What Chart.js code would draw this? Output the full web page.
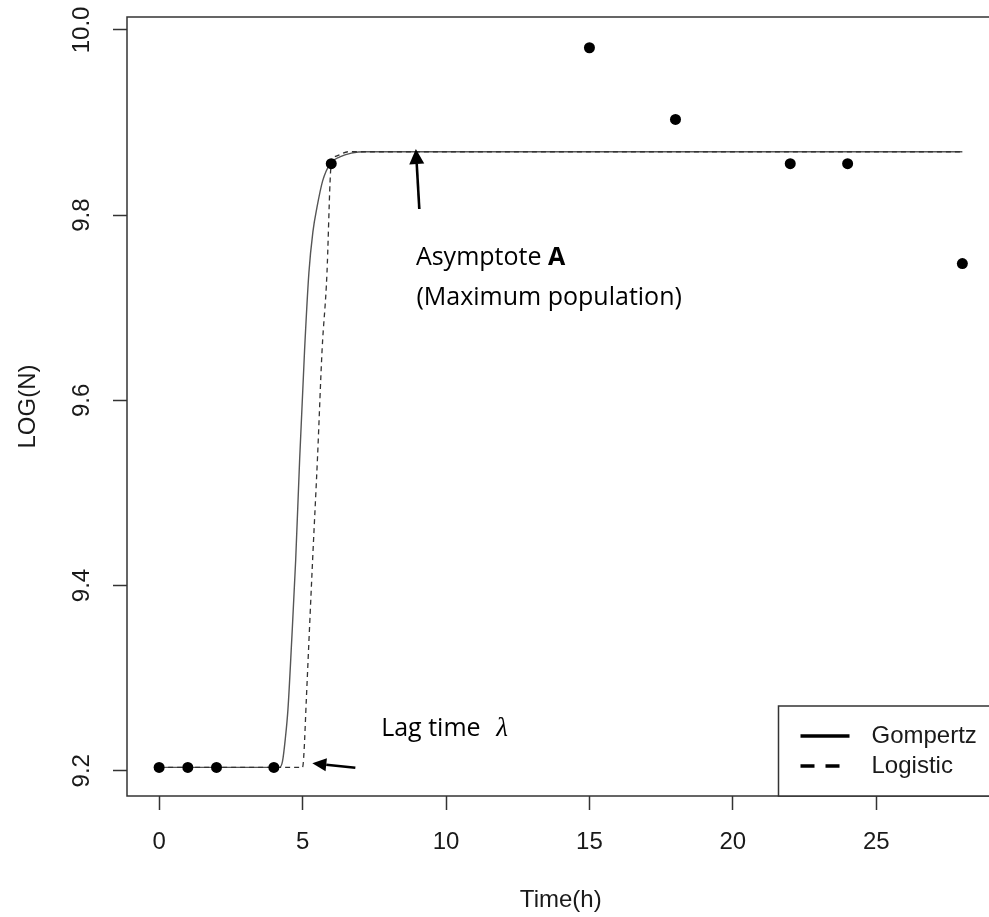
<!DOCTYPE html>
<html><head><meta charset="utf-8">
<script src="https://cdn.jsdelivr.net/npm/chart.js@4.4.1/dist/chart.umd.min.js"></script>
<style>
html,body{margin:0;padding:0;overflow:hidden;background:#fff;}
#wrap{position:relative;width:1000px;height:917px;}
</style></head><body>
<div id="wrap"><canvas id="c"></canvas></div>
<script>
// ---- data ----
const sampleTimes = [0, 1, 2, 4, 6, 15, 18, 22, 24, 28];
const sampleLogN  = [9.2036, 9.2036, 9.2036, 9.2036, 9.8556, 9.9808, 9.9034, 9.8556, 9.8556, 9.7477];

const gompertzTimes = [0, 4.2, 4.3, 4.4, 4.49, 4.62, 4.76, 4.9, 5.07, 5.22, 5.36, 5.5, 5.7, 5.97, 6.3, 6.7, 7.2, 28];
const gompertzLogN  = [9.2036, 9.2036, 9.21, 9.235, 9.266, 9.34, 9.4275, 9.5375, 9.654, 9.7375, 9.782, 9.808, 9.837, 9.856, 9.863, 9.867, 9.8685, 9.8685];

const logisticTimes = [0, 5.0, 5.05, 5.13, 5.35, 5.52, 5.68, 5.85, 5.96, 6.0, 6.2, 6.6, 28];
const logisticLogN  = [9.2036, 9.2036, 9.22, 9.276, 9.4275, 9.5375, 9.654, 9.737, 9.837, 9.856, 9.864, 9.8685, 9.8685];

const xTickValues = [0, 5, 10, 15, 20, 25];
const xTickLabels = ['0', '5', '10', '15', '20', '25'];
const yTickValues = [9.2, 9.4, 9.6, 9.8, 10.0];
const yTickLabels = ['9.2', '9.4', '9.6', '9.8', '10.0'];

const seriesNames = ['Gompertz', 'Logistic'];
const xTitle = 'Time(h)';
const yTitle = 'LOG(N)';
const asymptoteText = ['Asymptote ', 'A'];
const maxPopText = '(Maximum population)';
const lagText = 'Lag time';
const lambdaText = 'λ';

// ---- annotation anchors (data coordinates) ----
const anchors = {
  asym:   {t: 8.95, v: 9.746},
  maxPop: {t: 8.97, v: 9.703},
  lag:    {t: 7.74, v: 9.2374},
  lambda: {t: 11.75, v: 9.2374},
  asymArrow: {from: {t: 9.07, v: 9.8066}, to: {t: 8.95, v: 9.8714}},
  lagArrow:  {from: {t: 6.84, v: 9.2032}, to: {t: 5.34, v: 9.208}}
};

const RFONT = "'Liberation Sans', Arial, Helvetica, sans-serif";
const NOTEFONT = "'Open Sans', 'Noto Sans', sans-serif";
const INK = '#1a1a1a';
const toXY = (xs, ys) => xs.map((x, i) => ({x: x, y: ys[i]}));

function arrow(ctx, x1, y1, x2, y2, headLen, headW, lw) {
  const ang = Math.atan2(y2 - y1, x2 - x1);
  const bx = x2 - headLen * Math.cos(ang), by = y2 - headLen * Math.sin(ang);
  ctx.beginPath(); ctx.moveTo(x1, y1); ctx.lineTo(bx, by);
  ctx.lineWidth = lw; ctx.stroke();
  ctx.beginPath(); ctx.moveTo(x2, y2);
  ctx.lineTo(bx + headW / 2 * Math.sin(ang), by - headW / 2 * Math.cos(ang));
  ctx.lineTo(bx - headW / 2 * Math.sin(ang), by + headW / 2 * Math.cos(ang));
  ctx.closePath(); ctx.fill();
}

const decor = {
  id: 'decor',
  afterDraw(chart) {
    const {ctx, chartArea: a, scales: {x, y}} = chart;
    const P = (p) => [x.getPixelForValue(p.t), y.getPixelForValue(p.v)];
    ctx.save();
    // plot frame
    ctx.strokeStyle = '#333'; ctx.lineWidth = 1.5;
    ctx.strokeRect(a.left, a.top, a.right - a.left, a.bottom - a.top);

    // tick labels
    ctx.fillStyle = INK; ctx.font = '24px ' + RFONT;
    ctx.textAlign = 'center'; ctx.textBaseline = 'middle';
    x.ticks.forEach((t, i) => ctx.fillText(xTickLabels[i], x.getPixelForValue(t.value), a.bottom + 46));
    y.ticks.forEach((t, i) => {
      ctx.save(); ctx.translate(a.left - 45, y.getPixelForValue(t.value));
      ctx.rotate(-Math.PI / 2); ctx.fillText(yTickLabels[i], 0, 0); ctx.restore();
    });

    // annotations
    ctx.fillStyle = '#000'; ctx.strokeStyle = '#000';
    ctx.textAlign = 'left'; ctx.textBaseline = 'alphabetic';
    let [ax, ay] = P(anchors.asym);
    ctx.font = '25px ' + NOTEFONT;
    ctx.fillText(asymptoteText[0], ax, ay);
    const w = ctx.measureText(asymptoteText[0]).width;
    ctx.font = 'bold 25px ' + NOTEFONT;
    ctx.fillText(asymptoteText[1], ax + w, ay);
    ctx.font = '25px ' + NOTEFONT;
    let [mx, my] = P(anchors.maxPop);
    ctx.fillText(maxPopText, mx, my);
    let [lx, ly] = P(anchors.lag);
    ctx.fillText(lagText, lx, ly);
    let [gx, gy] = P(anchors.lambda);
    ctx.font = 'italic 27px "Liberation Serif", "DejaVu Serif", serif';
    ctx.fillText(lambdaText, gx, gy);

    let f = P(anchors.asymArrow.from), to = P(anchors.asymArrow.to);
    arrow(ctx, f[0], f[1], to[0], to[1], 15, 15, 2.6);
    f = P(anchors.lagArrow.from); to = P(anchors.lagArrow.to);
    arrow(ctx, f[0], f[1], to[0], to[1], 14, 13, 2.6);

    // legend (bottom-right of plot region)
    const bw = 216, bh = 90;
    const bl = a.right - bw, bt = a.bottom - bh;
    ctx.fillStyle = '#fff';
    ctx.fillRect(bl, bt, bw, bh);
    ctx.strokeStyle = '#333'; ctx.lineWidth = 1.5;
    ctx.strokeRect(bl, bt, bw, bh);
    ctx.strokeStyle = '#000'; ctx.lineWidth = 3.5;
    ctx.beginPath(); ctx.moveTo(bl + 22, bt + 30); ctx.lineTo(bl + 71, bt + 30); ctx.stroke();
    ctx.setLineDash([14, 11]);
    ctx.beginPath(); ctx.moveTo(bl + 22, bt + 60); ctx.lineTo(bl + 71, bt + 60); ctx.stroke();
    ctx.setLineDash([]);
    ctx.fillStyle = INK; ctx.font = '24px ' + RFONT; ctx.textBaseline = 'middle';
    ctx.fillText(seriesNames[0], bl + 93, bt + 30);
    ctx.fillText(seriesNames[1], bl + 93, bt + 60);
    ctx.restore();
  }
};

new Chart(document.getElementById('c'), {
  type: 'scatter',
  data: {
    datasets: [
      {label: 'Observed', data: toXY(sampleTimes, sampleLogN), showLine: false,
       pointRadius: 5.5, pointBackgroundColor: '#000', pointBorderColor: '#000', pointBorderWidth: 0},
      {label: seriesNames[1], data: toXY(logisticTimes, logisticLogN), showLine: true,
       borderColor: '#333', borderWidth: 1.3, borderDash: [5, 4], pointRadius: 0,
       cubicInterpolationMode: 'monotone', fill: false},
      {label: seriesNames[0], data: toXY(gompertzTimes, gompertzLogN), showLine: true,
       borderColor: '#555', borderWidth: 1.4, pointRadius: 0,
       cubicInterpolationMode: 'monotone', fill: false}
    ]
  },
  options: {
    responsive: true, maintainAspectRatio: false, animation: false,
    layout: {padding: {top: 17, right: 3, left: 0, bottom: 0}},
    plugins: {legend: {display: false}, tooltip: {enabled: false}},
    scales: {
      x: {
        type: 'linear', min: -1.12, max: 29.12,
        afterBuildTicks: s => { s.ticks = xTickValues.map(v => ({value: v})); },
        afterFit: s => { s.height = 121; },
        grid: {display: true, drawOnChartArea: false, drawTicks: true, tickLength: 14, tickColor: '#333', tickWidth: 1.5},
        border: {display: false},
        ticks: {display: false},
        title: {display: true, text: xTitle, color: INK, font: {family: RFONT, size: 24}, padding: {top: 0, bottom: 2}}
      },
      y: {
        type: 'linear', min: 9.1727, max: 10.014,
        afterBuildTicks: s => { s.ticks = yTickValues.map(v => ({value: v})); },
        afterFit: s => { s.width = 127; },
        grid: {display: true, drawOnChartArea: false, drawTicks: true, tickLength: 14, tickColor: '#333', tickWidth: 1.5},
        border: {display: false},
        ticks: {display: false},
        title: {display: true, text: yTitle, color: INK, font: {family: RFONT, size: 24}, padding: {top: 14, bottom: 0}}
      }
    }
  },
  plugins: [decor]
});
</script>
</body></html>
